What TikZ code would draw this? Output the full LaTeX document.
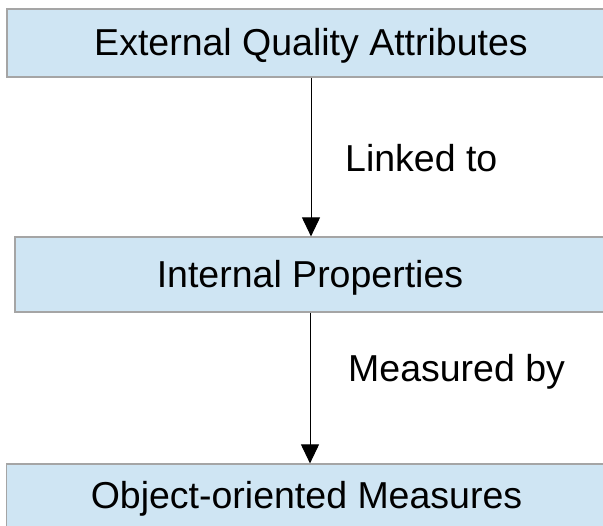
\documentclass[tikz,border=0pt]{standalone}
\usepackage{fontspec}
\setmainfont{Liberation Sans}
\usepackage{tikz}
\usetikzlibrary{arrows.meta}
\definecolor{boxfill}{RGB}{207, 229, 243}
\definecolor{boxline}{RGB}{165, 165, 165}
\newcommand*{\fs}{\fontsize{37.5}{45}\selectfont}

\begin{document}
\begin{tikzpicture}[
   x=1pt, y=-1pt,
   level/.style={rectangle, draw=boxline, fill=boxfill, line width=1.2, text=black,
                 inner sep=0, text height=26, text depth=0, font=\fs},
   link/.style={anchor=base west, inner sep=0, font=\fs}
  ]

  \useasboundingbox (0, 0) rectangle (603, 526);
  \clip (0, 0) rectangle (603, 526);

  \node (E) at (311, 43) [level, minimum width=608, minimum height=68] {External Quality Attributes};
  \node (I) at (310, 274.5) [level, minimum width=590, minimum height=75] {Internal Properties};
  \node (O) at (306.5, 496) [level, minimum width=600, minimum height=64] {Object-oriented Measures};

  \node (L1) at (345, 172) [link] {Linked to};
  \node (L2) at (348, 382) [link] {Measured by};

  \foreach \B/\E in {E/I, I/O} {
    \draw[-{Triangle[width=18, length=19]}, line width=1] (\B.south) -- (\B.south |- \E.north);
  }

\end{tikzpicture}
\end{document}
